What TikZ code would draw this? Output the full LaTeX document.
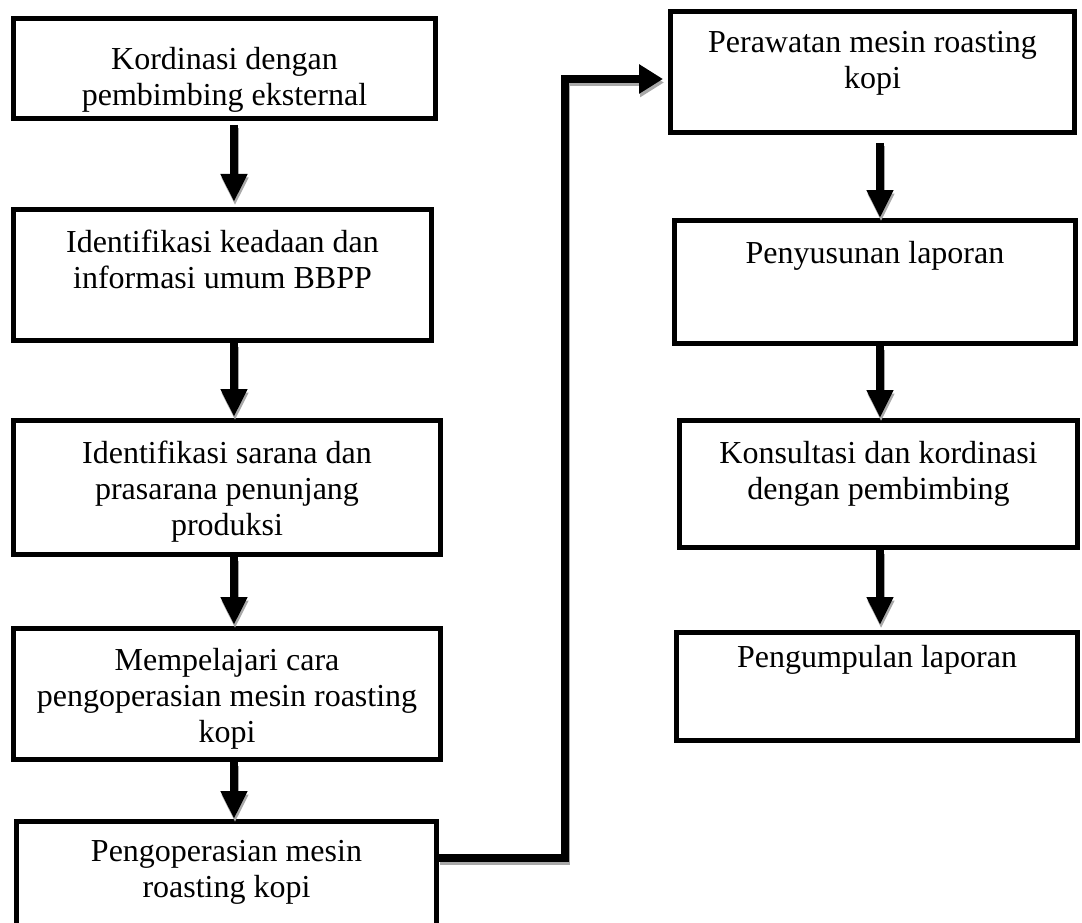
\documentclass[tikz,border=0pt]{standalone}
\usepackage{fontspec}
\setmainfont{Liberation Serif}
\usetikzlibrary{arrows.meta}
\definecolor{shadowgray}{HTML}{A8A8A8}
\begin{document}
\begin{tikzpicture}[x=1pt,y=-1pt,
  box/.style={draw=black, line width=5pt, rectangle, inner sep=0pt, fill=white},
  lbl/.style={anchor=north, inner sep=0pt, align=center, font=\fontsize{32}{36}\selectfont},
  arr/.style={line width=8pt, -{Triangle[width=25pt,length=28pt]}},
  harr/.style={line width=7.5pt, -{Triangle[width=28pt,length=24pt]}},
  shad/.style={draw=shadowgray, color=shadowgray, transform canvas={xshift=1pt, yshift=-3.5pt}}
]
\path[use as bounding box, clip] (0,0) rectangle (1082,923);
\fill[white] (0,0) rectangle (1082,923);

% left column boxes
\node[box, minimum width=422pt, minimum height=100pt] (b1) at (224.5,68.5) {};
\node[box, minimum width=418pt, minimum height=131pt] (b2) at (222.5,275) {};
\node[box, minimum width=427pt, minimum height=134pt] (b3) at (227,487.5) {};
\node[box, minimum width=427pt, minimum height=131pt] (b4) at (227,694) {};
\node[box, minimum width=420pt, minimum height=111pt] (b5) at (226.5,877) {};
% right column boxes
\node[box, minimum width=404pt, minimum height=121pt] (b6) at (872.5,72) {};
\node[box, minimum width=401pt, minimum height=123pt] (b7) at (875,282) {};
\node[box, minimum width=398pt, minimum height=127pt] (b8) at (878.5,484) {};
\node[box, minimum width=401pt, minimum height=108pt] (b9) at (877,686.5) {};

% texts
\node[lbl] (t1) at (224.5,47) {Kordinasi dengan\\pembimbing eksternal};
\node[lbl] (t2) at (222.5,230) {Identifikasi keadaan dan\\informasi umum BBPP};
\node[lbl] (t3) at (227,441) {Identifikasi sarana dan\\prasarana penunjang\\produksi};
\node[lbl] (t4) at (227,648) {Mempelajari cara\\pengoperasian mesin roasting\\kopi};
\node[lbl] (t5) at (226.5,840) {Pengoperasian mesin\\roasting kopi};
\node[lbl] (t6) at (872.5,31) {Perawatan mesin roasting\\kopi};
\node[lbl] (t7) at (875,241) {Penyusunan laporan};
\node[lbl] (t8) at (878.5,441) {Konsultasi dan kordinasi\\dengan pembimbing};
\node[lbl] (t9) at (877,645) {Pengumpulan laporan};

% guide coordinates
\coordinate (xl) at (234,0);
\coordinate (xr) at (880,0);
\coordinate (c1) at (565,858);
\coordinate (c2) at (565,79);

% shadows
\begin{scope}[shad]
\draw[arr, shorten <=4pt, shorten >=5pt] (b1.south -| xl) -- (b2.north -| xl);
\draw[arr, shorten >=1pt] (b2.south -| xl) -- (b3.north -| xl);
\draw[arr, shorten >=1pt] (b3.south -| xl) -- (b4.north -| xl);
\draw[arr] (b4.south -| xl) -- (b5.north -| xl);
\draw[arr, shorten <=8pt] (b6.south -| xr) -- (b7.north -| xr);
\draw[arr] (b7.south -| xr) -- (b8.north -| xr);
\draw[arr, shorten >=5pt] (b8.south -| xr) -- (b9.north -| xr);
\draw[harr, shorten >=5pt] (b5.east |- c1) -- (c1) -- (c2) -- (b6.west |- c2);
\end{scope}

% connectors
\draw[arr, shorten <=4pt, shorten >=5pt] (b1.south -| xl) -- (b2.north -| xl);
\draw[arr, shorten >=1pt] (b2.south -| xl) -- (b3.north -| xl);
\draw[arr, shorten >=1pt] (b3.south -| xl) -- (b4.north -| xl);
\draw[arr] (b4.south -| xl) -- (b5.north -| xl);
\draw[arr, shorten <=8pt] (b6.south -| xr) -- (b7.north -| xr);
\draw[arr] (b7.south -| xr) -- (b8.north -| xr);
\draw[arr, shorten >=5pt] (b8.south -| xr) -- (b9.north -| xr);
\draw[harr, shorten >=5pt] (b5.east |- c1) -- (c1) -- (c2) -- (b6.west |- c2);
\end{tikzpicture}
\end{document}
